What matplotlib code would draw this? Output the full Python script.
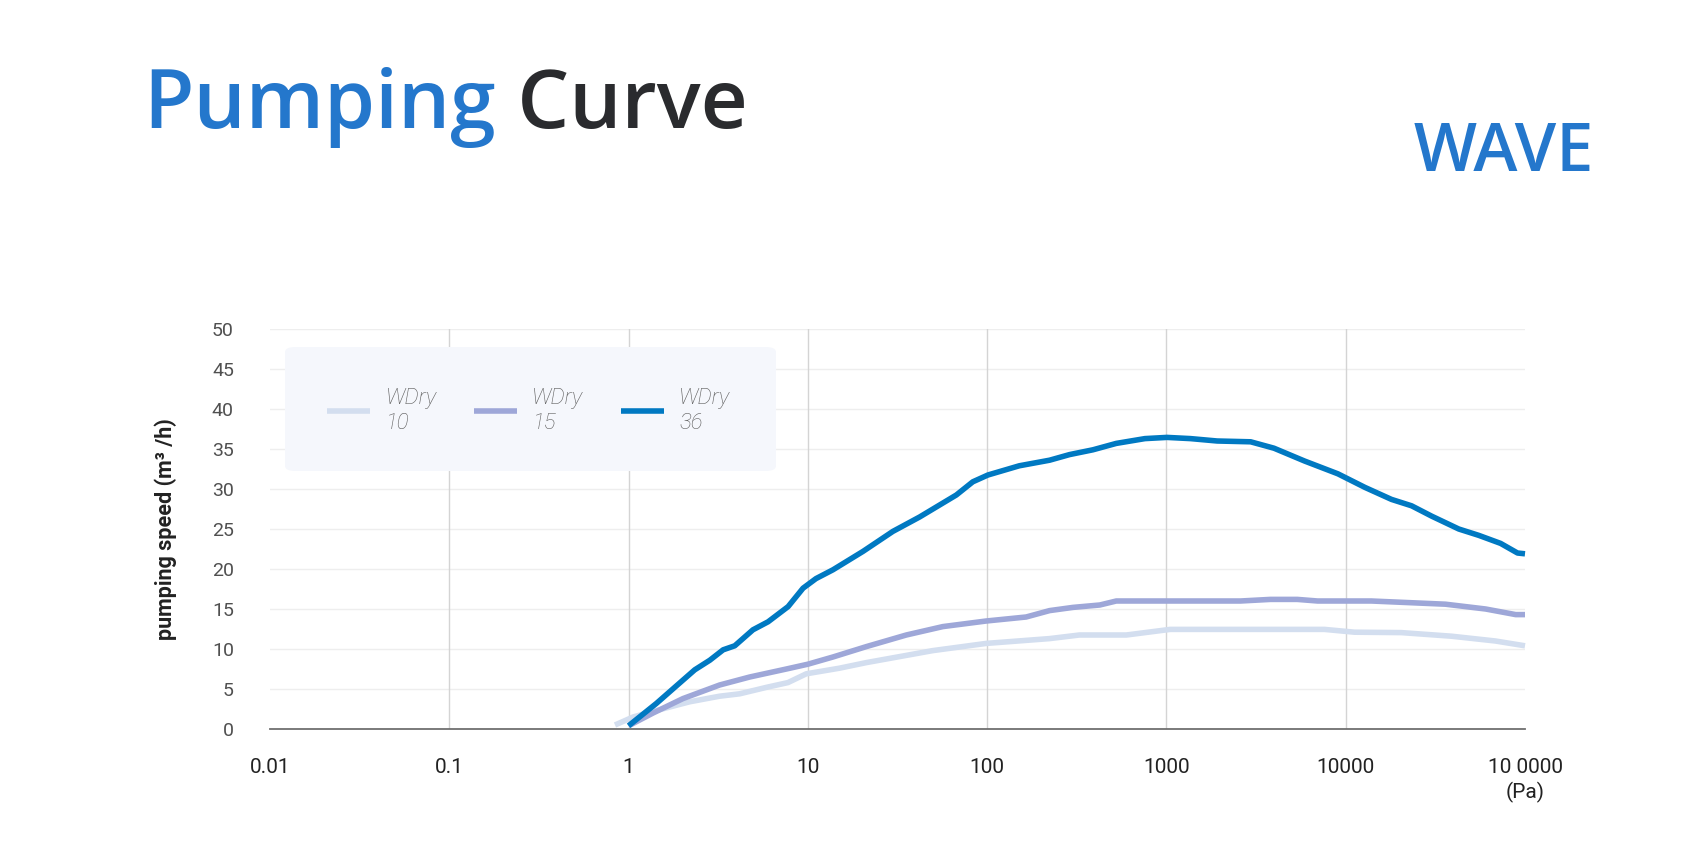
import matplotlib
matplotlib.use("Agg")
from matplotlib import pyplot as plt
from matplotlib.patches import FancyBboxPatch
from matplotlib.lines import Line2D

# pressure (Pa) and pumping speed (m3/h)
p10 = [0.84, 1.06, 1.37, 2.19, 3.22, 4.17, 5.86, 7.74, 9.8, 15.0, 21.2, 49.8, 98.9, 223, 327, 598, 1047, 7620, 11200, 20400, 38900, 68400, 100000]
s10 = [0.5, 1.5, 2.2, 3.4, 4.1, 4.4, 5.2, 5.8, 6.9, 7.6, 8.3, 9.8, 10.7, 11.3, 11.75, 11.75, 12.45, 12.45, 12.1, 12.05, 11.6, 11.0, 10.4]

p15 = [1.0, 1.37, 2.01, 3.22, 4.74, 7.59, 10.0, 13.8, 21.2, 35.4, 56.6, 98.9, 165, 223, 301, 425, 525, 1000, 2590, 3800, 5370, 6970, 13900, 36000, 60300, 88700, 100000]
s15 = [0.4, 2.0, 3.8, 5.5, 6.5, 7.5, 8.1, 9.0, 10.3, 11.75, 12.8, 13.5, 14.0, 14.8, 15.2, 15.5, 16.0, 16.0, 16.0, 16.2, 16.2, 16.0, 16.0, 15.6, 15.0, 14.3, 14.3]

p36 = [1.0, 1.43, 1.85, 2.34, 2.84, 3.37, 3.91, 4.94, 6.0, 7.76, 9.4, 11.1, 13.8, 20.3, 29.8, 42.0, 67.3, 83.2, 101, 151, 223, 288, 389, 525, 759, 1007, 1361, 1919, 2950, 3980, 5890, 9040, 12800, 18000, 23300, 30200, 42700, 55300, 73100, 90800, 100000]
s36 = [0.4, 3.2, 5.4, 7.4, 8.6, 9.9, 10.4, 12.4, 13.4, 15.3, 17.6, 18.8, 19.9, 22.2, 24.7, 26.5, 29.25, 30.9, 31.75, 32.9, 33.6, 34.3, 34.9, 35.7, 36.3, 36.45, 36.3, 36.0, 35.9, 35.1, 33.5, 31.9, 30.2, 28.7, 27.9, 26.6, 25.0, 24.2, 23.2, 22.0, 21.9]

series_names = ["WDry\n10", "WDry\n15", "WDry\n36"]
series_colors = ["#d3deef", "#9ea7d8", "#0079c2"]

x_ticks = [0.01, 0.1, 1, 10, 100, 1000, 10000, 100000]
x_labels = ["0.01", "0.1", "1", "10", "100", "1000", "10000", "10 0000\n(Pa)"]
y_ticks = [0, 5, 10, 15, 20, 25, 30, 35, 40, 45, 50]

W, H = 1707, 855
fig = plt.figure(figsize=(W / 100, H / 100), dpi=100)
fig.patch.set_facecolor("white")

def fx(px):
    return px / W

def fy(py):
    return 1 - py / H

ax = fig.add_axes([fx(270), fy(729), fx(1525) - fx(270), fy(329) - fy(729)])
ax.set_xscale("log")
ax.set_xlim(0.01, 100000)
ax.set_ylim(0, 50)

for sp in ["top", "right", "left"]:
    ax.spines[sp].set_visible(False)
ax.spines["bottom"].set_color("#6f6f6f")
ax.spines["bottom"].set_linewidth(1.3)

# grid lines
for yv in y_ticks[1:]:
    ax.axhline(yv, color="#eeeeee", lw=1.0, zorder=0)
for xv in x_ticks[1:-1]:
    ax.axvline(xv, color="#d4d4d4", lw=1.0, zorder=0)

for xs, ys, c in zip([p10, p15, p36], [s10, s15, s36], series_colors):
    ax.plot(xs, ys, color=c, lw=4.0, solid_capstyle="butt", solid_joinstyle="round", zorder=3, clip_on=False)

ax.set_xticks(x_ticks)
ax.set_xticklabels(x_labels, fontfamily="Roboto", fontsize=15, color="#222222", linespacing=1.3)
ax.xaxis.set_minor_locator(matplotlib.ticker.NullLocator())
ax.set_yticks(y_ticks)
ax.set_yticklabels([str(v) for v in y_ticks], fontfamily="Roboto", fontsize=14, color="#505050")
ax.tick_params(axis="x", length=0, pad=21)
ax.tick_params(axis="y", length=0, pad=26)

fig.text(fx(166), fy(529), "pumping speed (m³ /h)", rotation=90, ha="center", va="center",
         fontfamily="Roboto", fontweight="bold", fontsize=15.5, color="#222222")

# legend box
box = FancyBboxPatch((fx(285), fy(471)), fx(776) - fx(285), fy(347) - fy(471),
                     boxstyle="round,pad=0,rounding_size=0.006", transform=fig.transFigure,
                     facecolor="#f5f7fc", edgecolor="none", zorder=5)
fig.patches.append(box)
handles = [Line2D([], [], color=c, lw=4.0, solid_capstyle="butt") for c in series_colors]
leg = fig.legend(handles, series_names, loc="center left", bbox_to_anchor=(fx(327), fy(411)),
                 ncol=3, frameon=False, borderpad=0, borderaxespad=0, handlelength=1.95,
                 handletextpad=0.68, columnspacing=1.68, labelspacing=0.2,
                 prop={"family": "Roboto", "style": "italic", "weight": "light", "size": 16})
for t in leg.get_texts():
    t.set_color("#5c5c5c")
    t.set_linespacing(1.3)
leg.set_zorder(6)

# titles
t1 = fig.text(fx(143), fy(128), "Pumping", fontfamily="Open Sans", fontweight="semibold", fontsize=59,
              color="#2477cc", ha="left", va="baseline")
ax.annotate(" Curve", xy=(1, 0), xycoords=t1, fontfamily="Open Sans", fontweight="semibold", fontsize=59,
            color="#2a2b2e", ha="left", va="bottom", annotation_clip=False)
fig.text(fx(1594), fy(171), "WAVE", fontfamily="Open Sans", fontweight="semibold", fontsize=48,
         color="#2477cc", ha="right", va="baseline")

fig.savefig("out.png", dpi=100)
